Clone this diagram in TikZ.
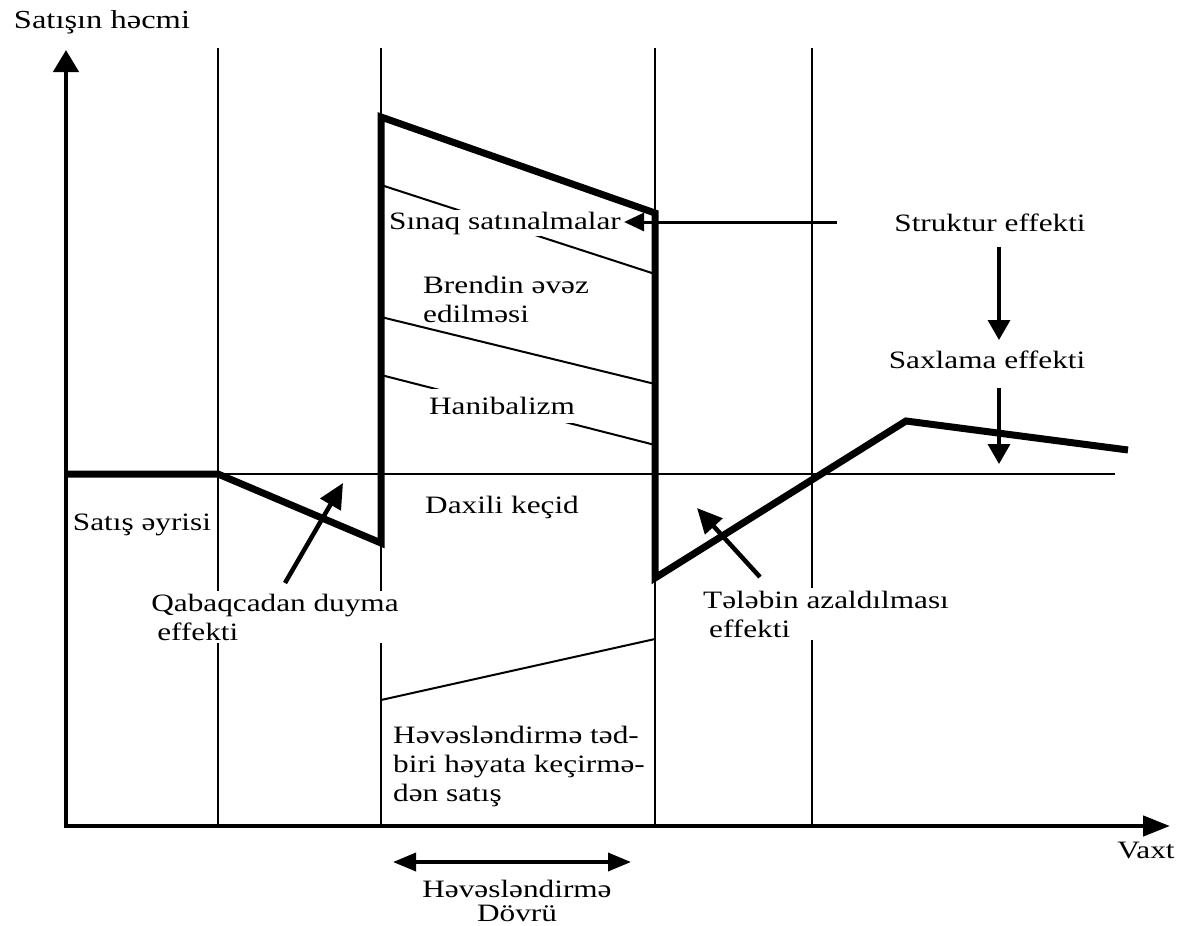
\documentclass[tikz,border=0pt]{standalone}
\usepackage{fontspec}
\setmainfont{Liberation Serif}[FakeStretch=1.25]
\usetikzlibrary{arrows.meta}
\begin{document}
\begin{tikzpicture}[x=1pt,y=-1pt,
  thinline/.style={line width=2pt},
  curve/.style={line width=7pt, line join=miter},
  axis/.style={line width=4.5pt},
  pointer/.style={line width=4.5pt, -{Triangle[length=25pt,width=23pt]}},
  smallpointer/.style={line width=3pt, -{Triangle[length=20pt,width=18pt]}},
  downpointer/.style={line width=3.5pt, -{Triangle[length=20pt,width=22pt]}},
  lbl/.style={fill=white, inner sep=3pt, font=\fontsize{25}{29}\selectfont},
]
\useasboundingbox (0,0) rectangle (1194,926);

% axes and grid coordinates
\coordinate (O) at (66,826);
\coordinate (Ytip) at (66,50);
\coordinate (Xtip) at (1170,826);
\foreach \x/\n in {218/a,381/b,655/c,812/d} {
  \coordinate (v\n top) at (\x,48);
  \coordinate (v\n bot) at (\x,826);
}
\coordinate (b0) at (66,474);
\coordinate (b1) at (1115,474);

% sales curve
\coordinate (c0) at (66,474);
\coordinate (c1) at (218,474);
\coordinate (c2) at (381,543);
\coordinate (c3) at (381,117);
\coordinate (c4) at (655,213);
\coordinate (c5) at (655,578);
\coordinate (c6) at (906,421);
\coordinate (c7) at (1128,450);

% inner thin lines
\coordinate (d1a) at (381,185); \coordinate (d1b) at (655,274);
\coordinate (d2a) at (381,317); \coordinate (d2b) at (655,384);
\coordinate (d3a) at (381,375); \coordinate (d3b) at (655,445);
\coordinate (d4a) at (381,700); \coordinate (d4b) at (655,639);

% thin lines
\foreach \n in {a,b,c,d} { \draw[thinline] (v\n top) -- (v\n bot); }
\draw[thinline] (b0) -- (b1);
\draw[thinline] (d1a) -- (d1b);
\draw[thinline] (d2a) -- (d2b);
\draw[thinline] (d3a) -- (d3b);
\draw[thinline] (d4a) -- (d4b);

% labels
\node[lbl, font=\fontsize{26}{29}\selectfont] (title) at (102,22) {Satışın həcmi};
\node[lbl] (vaxt) at (1146,850) {Vaxt};
\node[lbl, inner ysep=2pt] (sinaq) at (505,223) {Sınaq satınalmalar};
\node[lbl, align=left] (brend) at (506,299) {Brendin əvəz\\edilməsi};
\node[lbl, inner ysep=8pt] (hani) at (502,406) {Hanibalizm};
\node[lbl] (daxili) at (502,507) {Daxili keçid};
\node[lbl] (satis) at (142,525) {Satış əyrisi};
\node[lbl, align=left] (qabaq) at (275,617) {Qabaqcadan duyma\\\hspace*{6pt}effekti};
\node[lbl, align=left] (teleb) at (826,614) {Tələbin azaldılması\\\hspace*{6pt}effekti};
\node[lbl, align=left] (heves) at (519,766) {Həvəsləndirmə təd-\\biri həyata keçirmə-\\dən satış};
\node[lbl, align=center, font=\fontsize{25}{24}\selectfont] (dovr) at (517,901) {Həvəsləndirmə\\Dövrü};
\node[lbl] (struk) at (990,223) {Struktur effekti};
\node[lbl] (saxla) at (987,360) {Saxlama effekti};

% axes
\draw[axis, {Triangle[length=22pt,width=25pt]}-{Triangle[length=27pt,width=20pt]}]
  (Ytip) -- (O) -- (Xtip);

% thick curve
\draw[curve] (c0) -- (c1) -- (c2) -- (c3) -- (c4) -- (c5) -- (c6) -- (c7);

% pointers
\coordinate (sa0) at (837,222);
\draw[smallpointer] (sa0) -- (sinaq.east |- sa0);
\coordinate (s1) at (999,247); \coordinate (s2) at (999,340);
\draw[downpointer] (s1) -- (s2);
\coordinate (s3) at (999,388); \coordinate (s4) at (999,464);
\draw[downpointer] (s3) -- (s4);
\coordinate (q0) at (285,583); \coordinate (q1) at (343,483);
\draw[pointer] (q0) -- (q1);
\coordinate (t0) at (760,577); \coordinate (t1) at (697,508);
\draw[pointer] (t0) -- (t1);
\coordinate (h0) at (393,862); \coordinate (h1) at (631,862);
\draw[line width=3.5pt, {Triangle[length=23pt,width=18pt]}-{Triangle[length=23pt,width=18pt]}] (h0) -- (h1);
\end{tikzpicture}
\end{document}
